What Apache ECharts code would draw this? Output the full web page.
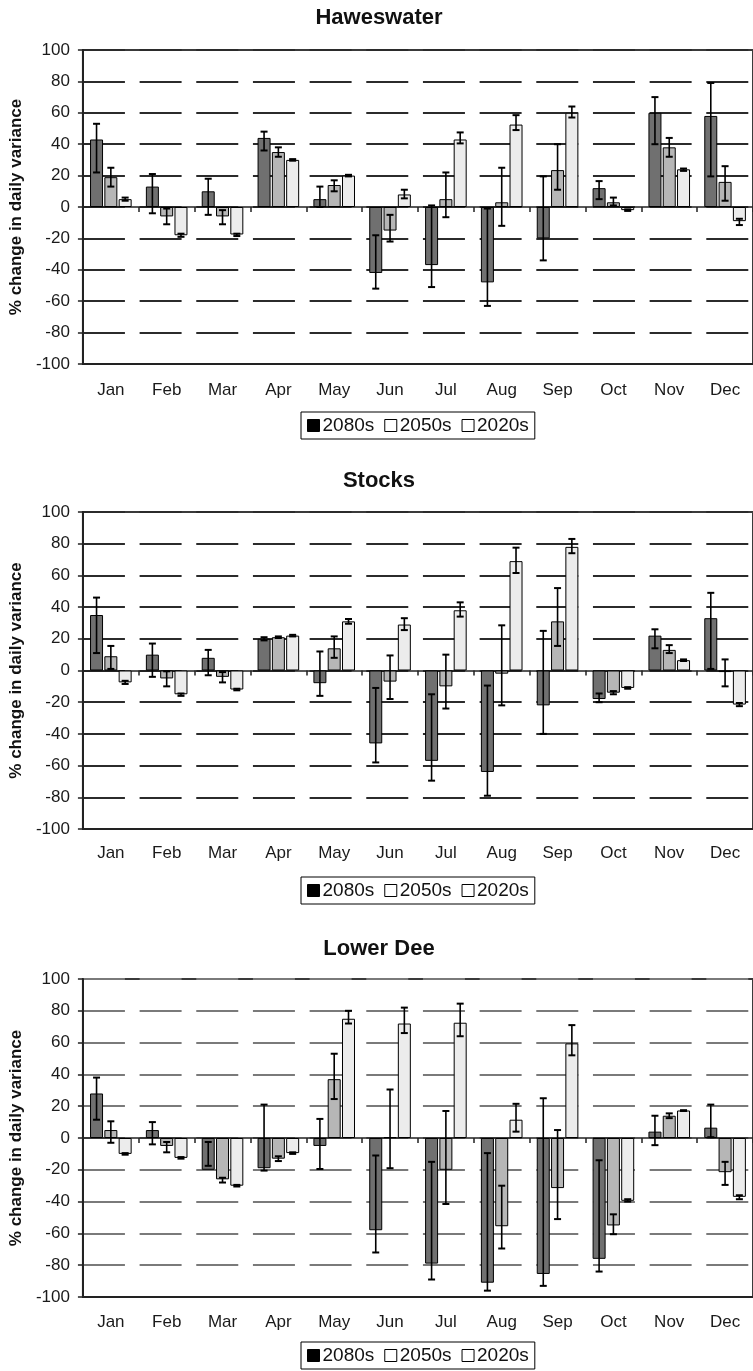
<!DOCTYPE html>
<html><head><meta charset="utf-8">
<script src="https://cdn.jsdelivr.net/npm/echarts@6/dist/echarts.min.js"></script>
<style>html,body{margin:0;padding:0;background:#fff}#c{width:753px;height:1371px}</style>
</head><body><div id="c"></div>
<script>
// ---------- DATA ----------
const months = ['Jan','Feb','Mar','Apr','May','Jun','Jul','Aug','Sep','Oct','Nov','Dec'];
const seriesNames = ['2080s','2050s','2020s'];
const panelTitles = ['Haweswater','Stocks','Lower Dee'];
const yAxisTitle = '% change in daily variance';

// Haweswater
const hw2080   = [43, 13, 10, 44, 5, -42, -37, -48, -20, 12, 60, 58];
const hw2080Lo = [22, -4, -5, 36, 0, -52, -51, -63, -34, 5, 40, 19.5];
const hw2080Hi = [53, 21, 18, 48, 13, -18, 1, -1, 19.5, 16.5, 70, 79];
const hw2050   = [19, -6, -6, 35, 14, -15, 5, 3, 23.5, 3, 38, 16];
const hw2050Lo = [13, -11, -11, 32, 10, -22, -6.5, -12, 11, 1, 32, 4];
const hw2050Hi = [25, -1, -2, 38, 17, -5, 22, 25, 40, 6, 44, 26];
const hw2020   = [5, -18, -17.5, 30, 20, 8, 43, 52.5, 60, -2, 24, -9];
const hw2020Lo = [4, -19, -18.5, 29.5, 19.5, 5.5, 40.5, 49, 57, -2.5, 23, -11.5];
const hw2020Hi = [6, -17, -17, 30.5, 20.5, 11, 47.5, 58.5, 64, -1.5, 24.5, -7.5];

// Stocks
const st2080   = [35, 10, 8, 20, -8, -46, -57, -64, -22, -18, 22, 33];
const st2080Lo = [11, -4, -3, 19, -16, -58, -69.5, -79, -40, -20, 14, 1];
const st2080Hi = [46, 17, 13, 21, 12, -11, -15, -9.5, 25, -14.5, 26, 49];
const st2050   = [9, -5, -4, 21, 14, -7, -10, -2, 31, -14, 13, -1];
const st2050Lo = [1, -10, -7.5, 20.5, 8, -18, -24, -22, 15.5, -15, 11, -10];
const st2050Hi = [15.5, -0.5, -1, 21.5, 21.5, 9.5, 10, 28.5, 52, -13, 16, 7];
const st2020   = [-7.5, -15, -12, 22, 31, 29, 38, 69, 78, -11, 6.5, -21.5];
const st2020Lo = [-8.5, -16, -12.5, 21.5, 29.5, 25.5, 34, 61.5, 74, -11.5, 6, -22.5];
const st2020Hi = [-6.5, -14.5, -11.5, 22.5, 32.5, 33, 43, 77.5, 83, -10.5, 7, -20.5];

// Lower Dee
const ld2080   = [28, 5, -20, -19, -5, -58, -79, -91, -85.5, -76, 4, 6.5];
const ld2080Lo = [11.5, -4, -17.5, -20.5, -19.5, -72, -89, -96, -93, -84, -4.5, 0.5];
const ld2080Hi = [38, 10, -2.5, 21, 12, -11, -15, -9.5, 25, -14, 14, 21];
const ld2050   = [5, -5, -26, -13, 37, 0.5, -20, -55.5, -31.5, -55, 14, -21.5];
const ld2050Lo = [-3, -9, -28, -14.5, 24.5, -19, -41.5, -69.5, -51, -60.5, 12.5, -29.5];
const ld2050Hi = [10.5, -2.5, -25, -11.5, 53, 30.5, 17, -30, 5, -48, 15.5, -15];
const ld2020   = [-10, -12.5, -30, -9.5, 75, 72, 72.5, 11.5, 59.5, -39.5, 17.3, -37];
const ld2020Lo = [-10.5, -13, -30.5, -10, 72, 66, 64, 4, 52, -40, 17, -38.5];
const ld2020Hi = [-9.5, -12, -29.5, -9, 80, 82, 84.5, 21.5, 71, -38.5, 17.5, -36];

const yMin = -100, yMax = 100, yStep = 20;

// ---------- STYLE / LAYOUT ----------
const panels = [
  { vals: [hw2080, hw2050, hw2020], lo: [hw2080Lo, hw2050Lo, hw2020Lo], hi: [hw2080Hi, hw2050Hi, hw2020Hi] },
  { vals: [st2080, st2050, st2020], lo: [st2080Lo, st2050Lo, st2020Lo], hi: [st2080Hi, st2050Hi, st2020Hi] },
  { vals: [ld2080, ld2050, ld2020], lo: [ld2080Lo, ld2050Lo, ld2020Lo], hi: [ld2080Hi, ld2050Hi, ld2020Hi] }
];
const layout = [
  { titleTop: 7,   gridTop: 50,  gridHeight: 314, legendTop: 412,  labelMargin: 18, split: '#2b2b2b' },
  { titleTop: 470, gridTop: 512, gridHeight: 317, legendTop: 877,  labelMargin: 16, split: '#2b2b2b' },
  { titleTop: 938, gridTop: 979, gridHeight: 318, legendTop: 1342, labelMargin: 17, split: '#7a7a7a' }
];
const barColors = ['#707070', '#b6b6b6', '#ececec'];
const FONT = 'Liberation Sans, Arial, sans-serif';
const BAR_W = 13, BAR_GAP_PCT = 10;
const offsets = [-1, 0, 1].map(k => k * BAR_W * (1 + BAR_GAP_PCT / 100));

function errRender(offset) {
  return function (params, api) {
    const i = api.value(0);
    const a = api.coord([i, api.value(1)]);
    const b = api.coord([i, api.value(2)]);
    const x = a[0] + offset, c = 3.5;
    const st = { stroke: '#000', lineWidth: 1.6 };
    const cap = { stroke: '#000', lineWidth: 2 };
    return { type: 'group', children: [
      { type: 'line', shape: { x1: x, y1: a[1], x2: x, y2: b[1] }, style: st },
      { type: 'line', shape: { x1: x - c, y1: a[1], x2: x + c, y2: a[1] }, style: cap },
      { type: 'line', shape: { x1: x - c, y1: b[1], x2: x + c, y2: b[1] }, style: cap }
    ]};
  };
}

const option = { animation: false, backgroundColor: '#fff',
  title: [], grid: [], xAxis: [], yAxis: [], legend: [], series: [] };

layout.forEach((L, p) => {
  option.title.push({ text: panelTitles[p], left: 379, top: L.titleTop, textAlign: 'center', padding: 0,
    textStyle: { fontFamily: FONT, fontSize: 22, fontWeight: 'bold', color: '#111' } });
  option.grid.push({ left: 78, width: 680, top: L.gridTop, height: L.gridHeight,
    show: true, borderColor: '#3a3a3a', borderWidth: 2, backgroundColor: 'transparent' });
  // labelled bottom axis
  option.xAxis.push({ type: 'category', gridIndex: p, data: months, position: 'bottom',
    axisLine: { onZero: false, lineStyle: { color: '#222', width: 2 } },
    axisTick: { show: false },
    axisLabel: { margin: L.labelMargin, fontFamily: FONT, fontSize: 17, color: '#1a1a1a' },
    splitLine: { show: false } });
  // zero line with ticks
  option.xAxis.push({ type: 'category', gridIndex: p, data: months, position: 'bottom',
    axisLine: { onZero: true, lineStyle: { color: '#222', width: 1.5 } },
    axisTick: { show: true, length: 5, lineStyle: { color: '#222', width: 1.5 } },
    axisLabel: { show: false }, splitLine: { show: false } });
  option.yAxis.push({ type: 'value', gridIndex: p, min: yMin, max: yMax, interval: yStep,
    name: yAxisTitle, nameLocation: 'middle', nameGap: 53, nameRotate: 90,
    nameTextStyle: { fontFamily: FONT, fontSize: 17, fontWeight: 'bold', color: '#111' },
    axisLine: { show: true, onZero: false, lineStyle: { color: '#222', width: 2 } },
    axisTick: { show: true, length: 5, lineStyle: { color: '#222', width: 1.5 } },
    axisLabel: { margin: 13, fontFamily: FONT, fontSize: 17, color: '#1a1a1a' },
    splitLine: { show: true, lineStyle: { color: L.split, width: 2, type: [42, 14.67] } } });
  option.legend.push({ left: 301, top: L.legendTop, orient: 'horizontal', selectedMode: false,
    padding: [4, 6], itemGap: 10, itemWidth: 12, itemHeight: 12,
    borderColor: '#000', borderWidth: 1,
    textStyle: { fontFamily: FONT, fontSize: 19, color: '#111', padding: [0, 0, 0, -2] },
    data: [
      { name: seriesNames[0], icon: 'rect', itemStyle: { color: '#000', borderColor: '#000', borderWidth: 1 } },
      { name: seriesNames[1], icon: 'rect', itemStyle: { color: '#fff', borderColor: '#000', borderWidth: 1 } },
      { name: seriesNames[2], icon: 'rect', itemStyle: { color: '#fff', borderColor: '#000', borderWidth: 1 } }
    ] });
  const P = panels[p];
  seriesNames.forEach((nm, s) => {
    option.series.push({ type: 'bar', name: nm, xAxisIndex: p * 2, yAxisIndex: p,
      data: P.vals[s], barWidth: BAR_W, barGap: BAR_GAP_PCT + '%',
      itemStyle: { color: barColors[s], borderColor: '#000', borderWidth: 1 }, z: 2 });
  });
  seriesNames.forEach((nm, s) => {
    option.series.push({ type: 'custom', name: nm + ' range', xAxisIndex: p * 2, yAxisIndex: p,
      data: months.map((m, i) => [i, P.lo[s][i], P.hi[s][i]]),
      encode: { x: 0, y: [1, 2] }, renderItem: errRender(offsets[s]), z: 5, silent: true });
  });
});

const chart = echarts.init(document.getElementById('c'), null, { renderer: 'canvas' });
chart.setOption(option);
</script></body></html>
